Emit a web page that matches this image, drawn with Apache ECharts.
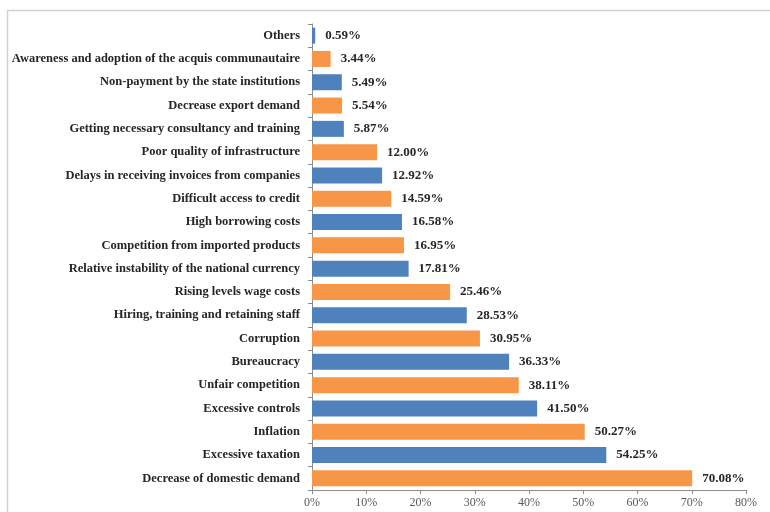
<!DOCTYPE html>
<html>
<head>
<meta charset="utf-8">
<script src="https://cdn.jsdelivr.net/npm/echarts@6/dist/echarts.min.js"></script>
<style>html,body{margin:0;padding:0;background:#fff;}#main{width:770px;height:512px;}</style>
</head>
<body>
<div id="main"></div>
<script>
var categories = [
  "Decrease of domestic demand",
  "Excessive taxation",
  "Inflation",
  "Excessive controls",
  "Unfair competition",
  "Bureaucracy",
  "Corruption",
  "Hiring, training and retaining staff",
  "Rising levels wage costs",
  "Relative instability of the national currency",
  "Competition from imported products",
  "High borrowing costs",
  "Difficult access to credit",
  "Delays in receiving invoices from companies",
  "Poor quality of infrastructure",
  "Getting necessary consultancy and training",
  "Decrease export demand",
  "Non-payment by the state institutions",
  "Awareness and adoption of the acquis communautaire",
  "Others"
];
var values = [70.08, 54.25, 50.27, 41.50, 38.11, 36.33, 30.95, 28.53, 25.46, 17.81, 16.95, 16.58, 14.59, 12.92, 12.00, 5.87, 5.54, 5.49, 3.44, 0.59];
var xTicks = [0, 10, 20, 30, 40, 50, 60, 70, 80];

var ORANGE = '#f79646', BLUE = '#4f81bd';
var chart = echarts.init(document.getElementById('main'));
chart.setOption({
  animation: false,
  backgroundColor: '#ffffff',
  graphic: [{
    type: 'rect', left: 5, top: 8, silent: true,
    shape: { x: 0, y: 0, width: 780, height: 520 },
    style: { fill: 'none', stroke: '#c9d3dc', lineWidth: 1.5 }
  }],
  grid: { left: 312, right: 24, top: 24, bottom: 22, containLabel: false },
  xAxis: {
    type: 'value', min: xTicks[0], max: xTicks[xTicks.length - 1], interval: 10,
    axisLine: { show: true, lineStyle: { color: '#8c8c8c' } },
    axisTick: { show: true, length: 4, lineStyle: { color: '#8c8c8c' } },
    splitLine: { show: false },
    axisLabel: { formatter: '{value}%', color: '#595959', fontFamily: 'Liberation Serif', fontSize: 12, margin: 7 }
  },
  yAxis: {
    type: 'category', data: categories,
    axisLine: { show: true, lineStyle: { color: '#8c8c8c' } },
    axisTick: { show: true, length: 4, lineStyle: { color: '#8c8c8c' } },
    axisLabel: { color: '#262626', fontFamily: 'Liberation Serif', fontWeight: 'bold', fontSize: 12.5, margin: 12 }
  },
  series: [{
    type: 'bar', data: values, barWidth: 16,
    itemStyle: { color: function (p) { return p.dataIndex % 2 === 0 ? ORANGE : BLUE; } },
    label: {
      show: true, position: 'right', distance: 10,
      formatter: function (p) { return p.value.toFixed(2) + '%'; },
      color: '#262626', fontFamily: 'Liberation Serif', fontWeight: 'bold', fontSize: 13
    }
  }]
});
</script>
</body>
</html>
